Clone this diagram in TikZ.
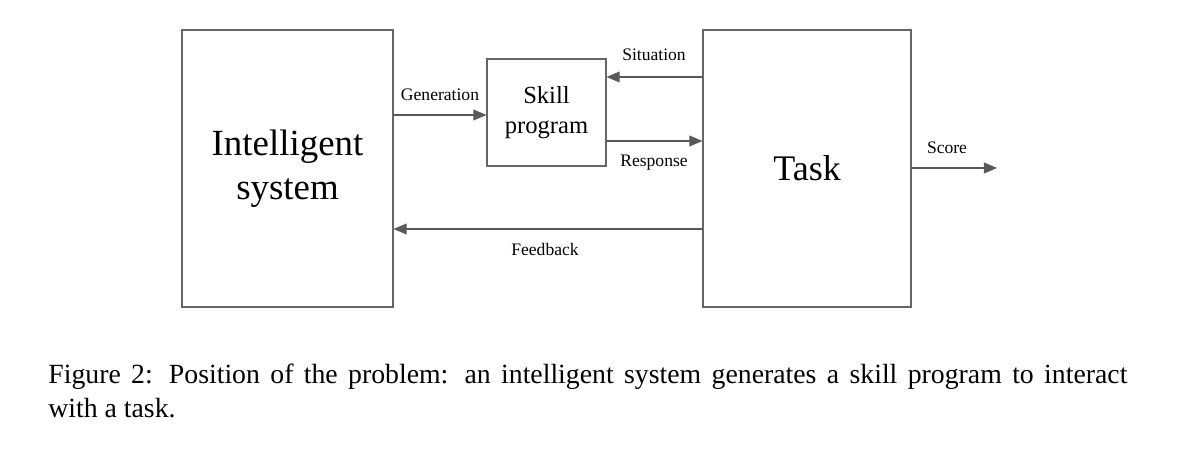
\documentclass[tikz,border=0pt]{standalone}
\usepackage{fontspec}
\setmainfont{Liberation Serif}
\usepackage{tikz}
\usetikzlibrary{arrows}

\begin{document}
\begin{tikzpicture}[
            x=0.02cm, y=-0.02cm,
            box/.style={draw=black!60, line width=0.6pt, inner sep=0pt}, % Boxes
            link/.style={draw=black!65, line width=0.7pt, -triangle 45}, % Arrows
            lbl/.style={font=\fontsize{10}{12}\selectfont, inner sep=1pt} % Arrow labels
            ]
        \useasboundingbox (0,0) rectangle (1200,452);

            % Main boxes
            \node[box, minimum width=211*0.02cm, minimum height=277*0.02cm, align=center,
                  font=\fontsize{21}{25}\selectfont] (sys) at (287.5,168.5) {Intelligent\\system};
            \node[box, minimum width=119*0.02cm, minimum height=107*0.02cm, align=center,
                  font=\fontsize{14}{17}\selectfont] (skill) at (546.5,112.5)
                  {Skill\\program};
            \node[box, minimum width=208*0.02cm, minimum height=277*0.02cm,
                  font=\fontsize{20.5}{25}\selectfont] (task) at (807,168.5) {Task};

            % Connector end points
            \coordinate (g1) at (sys.east |- 0,115);
            \coordinate (g2) at (skill.west |- 0,115);
            \coordinate (s1) at (task.west |- 0,77);
            \coordinate (s2) at (skill.east |- 0,77);
            \coordinate (r1) at (skill.east |- 0,141);
            \coordinate (r2) at (task.west |- 0,141);
            \coordinate (f1) at (task.west |- 0,229);
            \coordinate (f2) at (sys.east |- 0,229);
            \coordinate (o1) at (task.east |- 0,168);
            \coordinate (o2) at (997,168);

            \draw[link] (g1) -- (g2);
            \draw[link] (s1) -- (s2);
            \draw[link] (r1) -- (r2);
            \draw[link] (f1) -- (f2);
            \draw[link] (o1) -- (o2);

            % Labels
            \node[lbl] (lgen) at (440,95) {Generation};
            \node[lbl] (lsit) at (654,55) {Situation};
            \node[lbl] (lres) at (654,163) {Response};
            \node[lbl] (lfb) at (545,249) {Feedback};
            \node[lbl] (lsc) at (947,148) {Score};

            % Caption
            \node[anchor=north west, inner sep=0pt, text width=1079*0.02cm, align=justify,
                  font=\fontsize{15.8}{18.9}\selectfont] (cap) at (48,364)
                  {Figure 2: Position of the problem: an intelligent system generates a skill program to interact\linebreak with a task.};

            \end{tikzpicture}
\end{document}
